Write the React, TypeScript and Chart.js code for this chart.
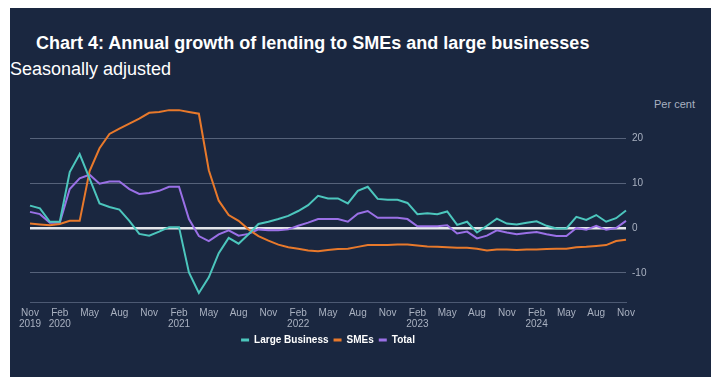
import React, { useEffect, useRef } from "react";
import { Chart, registerables } from "chart.js";

Chart.register(...registerables);

const months = [
  "Nov 2019", "Dec 2019", "Jan 2020", "Feb 2020", "Mar 2020", "Apr 2020", "May 2020", "Jun 2020", "Jul 2020", "Aug 2020", "Sep 2020", "Oct 2020",
  "Nov 2020", "Dec 2020", "Jan 2021", "Feb 2021", "Mar 2021", "Apr 2021", "May 2021", "Jun 2021", "Jul 2021", "Aug 2021", "Sep 2021", "Oct 2021",
  "Nov 2021", "Dec 2021", "Jan 2022", "Feb 2022", "Mar 2022", "Apr 2022", "May 2022", "Jun 2022", "Jul 2022", "Aug 2022", "Sep 2022", "Oct 2022",
  "Nov 2022", "Dec 2022", "Jan 2023", "Feb 2023", "Mar 2023", "Apr 2023", "May 2023", "Jun 2023", "Jul 2023", "Aug 2023", "Sep 2023", "Oct 2023",
  "Nov 2023", "Dec 2023", "Jan 2024", "Feb 2024", "Mar 2024", "Apr 2024", "May 2024", "Jun 2024", "Jul 2024", "Aug 2024", "Sep 2024", "Oct 2024",
  "Nov 2024",
];

const largeBusiness = [
  5.0, 4.4, 1.4, 1.4, 12.5, 16.5, 11.0, 5.5, 4.7, 4.1, 1.6, -1.3,
  -1.7, -0.8, 0.2, 0.2, -9.9, -14.5, -11.0, -5.6, -2.2, -3.5, -1.4, 0.9,
  1.4, 2.0, 2.7, 3.8, 5.1, 7.2, 6.6, 6.6, 5.5, 8.3, 9.2, 6.5,
  6.3, 6.3, 5.6, 3.1, 3.3, 3.1, 3.7, 0.7, 1.4, -1.0, 0.5, 2.1,
  1.0, 0.8, 1.2, 1.5, 0.5, -0.1, -0.1, 2.5, 1.8, 2.9, 1.4, 2.2, 3.9,
];

const smes = [
  1.0, 0.8, 0.6, 0.9, 1.6, 1.6, 12.7, 17.8, 21.0, 22.2, 23.3, 24.4,
  25.7, 25.9, 26.3, 26.3, 25.9, 25.5, 12.9, 6.1, 2.9, 1.6, -0.3, -1.8,
  -2.8, -3.7, -4.3, -4.6, -5.0, -5.2, -4.9, -4.7, -4.6, -4.2, -3.8, -3.8,
  -3.8, -3.7, -3.7, -3.9, -4.1, -4.2, -4.3, -4.4, -4.4, -4.6, -5.0, -4.8,
  -4.8, -4.9, -4.8, -4.8, -4.7, -4.6, -4.6, -4.3, -4.2, -4.0, -3.8, -2.9, -2.6,
];

const total = [
  3.6, 3.1, 1.2, 1.2, 8.7, 11.1, 11.9, 9.9, 10.4, 10.4, 8.7, 7.6,
  7.8, 8.3, 9.2, 9.2, 2.0, -1.8, -2.9, -1.4, -0.5, -1.7, -1.3, -0.3,
  -0.5, -0.5, -0.3, 0.5, 1.2, 2.0, 2.0, 2.0, 1.4, 3.2, 3.8, 2.3,
  2.3, 2.3, 2.0, 0.4, 0.4, 0.4, 0.6, -1.2, -0.8, -2.3, -1.7, -0.5,
  -1.0, -1.4, -1.1, -0.9, -1.4, -1.8, -1.8, 0.0, -0.4, 0.5, -0.4, 0.0, 1.6,
];

const yTicks = [-10, 0, 10, 20];

const BG = "#1a2740";
const TICK = "#a9b1c0";

export default function App() {
  const ref = useRef<HTMLCanvasElement>(null);

  useEffect(() => {
    if (!ref.current) return;
    Chart.defaults.font.family = "'Liberation Sans', Arial, sans-serif";
    const chart = new Chart(ref.current, {
      type: "line",
      data: {
        labels: months,
        datasets: [
          { label: "Large Business", data: largeBusiness, borderColor: "#4cc6bd", backgroundColor: "#4cc6bd" },
          { label: "SMEs", data: smes, borderColor: "#e8792b", backgroundColor: "#e8792b" },
          { label: "Total", data: total, borderColor: "#9a70e6", backgroundColor: "#9a70e6" },
        ].map((d) => ({ ...d, borderWidth: 2, pointRadius: 0, tension: 0 })),
      },
      options: {
        responsive: false,
        animation: false,
        layout: { padding: { left: 20, right: 45, top: 17, bottom: 15 } },
        plugins: {
          tooltip: { enabled: false },
          legend: {
            position: "bottom",
            fullSize: false,
            labels: {
              color: "#ffffff",
              font: { size: 10, weight: "bold" },
              boxWidth: 8,
              boxHeight: 3,
              padding: 5,
              generateLabels: (c: any) =>
                Chart.defaults.plugins.legend.labels
                  .generateLabels(c)
                  .map((l: any) => ({ ...l, fillStyle: l.strokeStyle, lineWidth: 0 })),
            },
          },
        },
        scales: {
          x: {
            type: "category",
            offset: false,
            grid: { display: false, drawTicks: false, tickLength: 0 },
            border: { display: true, color: "#4d5a73", width: 1 },
            afterFit: (s: any) => {
              s.height = 28;
            },
            ticks: {
              autoSkip: false,
              maxRotation: 0,
              minRotation: 0,
              padding: 6,
              color: TICK,
              font: { size: 10, lineHeight: 1.1 },
              callback: (_v: any, i: number) => {
                if (i % 3 !== 0) return "";
                const [m, y] = months[i].split(" ");
                return i === 0 || m === "Feb" ? [m, y] : m;
              },
            },
          },
          y: {
            position: "right",
            min: -16.5,
            max: 27,
            afterBuildTicks: (s: any) => {
              s.ticks = yTicks.map((v) => ({ value: v }));
            },
            afterFit: (s: any) => {
              s.width = 40;
            },
            border: { display: false },
            grid: {
              drawTicks: false,
              color: (c: any) => (c.tick && c.tick.value === 0 ? "#e4e6ea" : "#56627a"),
              lineWidth: (c: any) => (c.tick && c.tick.value === 0 ? 2.5 : 1),
            },
            ticks: { padding: 6, color: TICK, font: { size: 10 } },
          },
        },
      },
    });
    return () => chart.destroy();
  }, []);

  return (
    <div
      style={{
        position: "fixed",
        left: 10,
        top: 8,
        width: 701,
        height: 369,
        background: BG,
        fontFamily: "'Liberation Sans', Arial, sans-serif",
        overflow: "hidden",
      }}
    >
      <div style={{ position: "absolute", left: 26, top: 24, fontSize: 18, lineHeight: "22px", fontWeight: "bold", color: "#fff", whiteSpace: "nowrap" }}>
        Chart 4: Annual growth of lending to SMEs and large businesses
      </div>
      <div style={{ position: "absolute", left: 0, top: 50, fontSize: 18, lineHeight: "22px", color: "#fff", whiteSpace: "nowrap" }}>
        Seasonally adjusted
      </div>
      <div style={{ position: "absolute", left: 644, top: 90, fontSize: 11, lineHeight: "13px", color: TICK, whiteSpace: "nowrap" }}>
        Per cent
      </div>
      <canvas ref={ref} width={701} height={280} style={{ position: "absolute", left: 0, top: 82, width: 701, height: 280 }} />
    </div>
  );
}
